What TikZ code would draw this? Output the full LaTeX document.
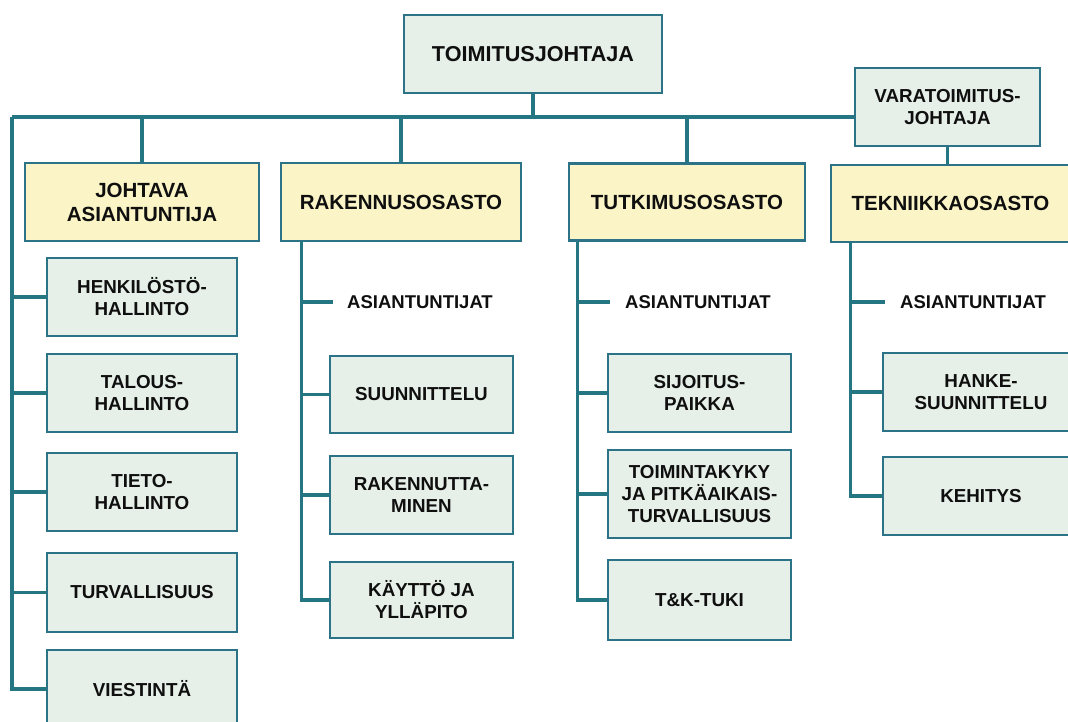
\documentclass[tikz,border=0pt]{standalone}
\usepackage{fontspec}
\setmainfont{Liberation Sans}
\definecolor{bordc}{RGB}{45,115,135}
\definecolor{linec}{RGB}{35,118,130}
\definecolor{lightf}{RGB}{230,239,232}
\definecolor{yelf}{RGB}{250,244,198}
\definecolor{txtc}{RGB}{15,15,15}
\begin{document}
\begin{tikzpicture}[x=1pt,y=-1pt,
  box/.style={draw=bordc, line width=2.7pt, align=center, inner sep=0pt, text=txtc,
    font=\fontsize{18.8}{22}\selectfont\bfseries},
  lbox/.style={box, fill=lightf},
  hbox/.style={box, fill=yelf, font=\fontsize{20.5}{24}\selectfont\bfseries},
  plain/.style={text=txtc, inner ysep=0pt, inner xsep=14pt, anchor=west,
    font=\fontsize{18.5}{22}\selectfont\bfseries},
  conn/.style={draw=linec, line width=3.2pt}]
\useasboundingbox (0,0) rectangle (1068,722);
\clip (0,0) rectangle (1068,722);
\fill[white] (0,0) rectangle (1068,722);

% top level
\node[lbox, minimum width=258pt, minimum height=78pt, font=\fontsize{21.6}{25}\selectfont\bfseries] (top) at (533,54) {TOIMITUSJOHTAJA};
\node[lbox, minimum width=185pt, minimum height=78pt] (vara) at (947.5,107) {VARATOIMITUS-\\JOHTAJA};

% departments
\node[hbox, minimum width=234pt, minimum height=78pt] (joht) at (142,202) {JOHTAVA\\ASIANTUNTIJA};
\node[hbox, minimum width=240pt, minimum height=78pt] (rak) at (401,202) {RAKENNUSOSASTO};
\node[hbox, minimum width=236pt, minimum height=77pt] (tutk) at (687,202) {TUTKIMUSOSASTO};
\node[hbox, minimum width=239pt, minimum height=77pt] (tekn) at (950.5,203.5) {TEKNIIKKAOSASTO};

% left column
\node[lbox, minimum width=190pt, minimum height=78pt] (henk) at (142,297) {HENKILÖSTÖ-\\HALLINTO};
\node[lbox, minimum width=190pt, minimum height=78pt] (tal) at (142,393) {TALOUS-\\HALLINTO};
\node[lbox, minimum width=190pt, minimum height=78pt] (tieto) at (142,492) {TIETO-\\HALLINTO};
\node[lbox, minimum width=190pt, minimum height=79pt] (turv) at (142,592.5) {TURVALLISUUS};
\node[lbox, minimum width=190pt, minimum height=78pt] (viest) at (142,689) {VIESTINTÄ};

% rakennus column
\node[plain] (asR) at (333,302) {ASIANTUNTIJAT};
\node[lbox, minimum width=183pt, minimum height=77pt] (suun) at (421.5,394.5) {SUUNNITTELU};
\node[lbox, minimum width=183pt, minimum height=78pt] (rakm) at (421.5,495) {RAKENNUTTA-\\MINEN};
\node[lbox, minimum width=183pt, minimum height=76pt] (kay) at (421.5,600) {KÄYTTÖ JA\\YLLÄPITO};

% tutkimus column
\node[plain, inner xsep=15pt] (asT) at (610,302) {ASIANTUNTIJAT};
\node[lbox, minimum width=183pt, minimum height=78pt] (sij) at (699.5,393) {SIJOITUS-\\PAIKKA};
\node[lbox, minimum width=183pt, minimum height=88pt] (toim) at (699.5,494) {TOIMINTAKYKY\\JA PITKÄAIKAIS-\\TURVALLISUUS};
\node[lbox, minimum width=183pt, minimum height=80pt] (tk) at (699.5,600) {T\&K-TUKI};

% tekniikka column
\node[plain, inner xsep=15pt] (asK) at (885,302) {ASIANTUNTIJAT};
\node[lbox, minimum width=196pt, minimum height=78pt] (hanke) at (981,392) {HANKE-\\SUUNNITTELU};
\node[lbox, minimum width=196pt, minimum height=78pt] (keh) at (981,496) {KEHITYS};

% bus
\coordinate (busL) at (12,117);
\path[conn] (top.south) -- (top.south |- busL);
\path[conn] (busL) -- (vara.west |- busL);
\path[conn] (vara.south) -- (vara.south |- tekn.north);
\path[conn] (joht.north |- busL) -- (joht.north);
\path[conn] (rak.north |- busL) -- (rak.north);
\path[conn] (tutk.north |- busL) -- (tutk.north);

% left column connectors
\path[conn] (busL) -- (busL |- viest.west) -- (viest.west);
\foreach \n in {henk,tal,tieto,turv} \path[conn] (busL |- \n.west) -- (\n.west);

% rakennus connectors
\coordinate (rv) at ([xshift=22pt]rak.south west);
\path[conn] (rv) -- (rv |- kay.west) -- (kay.west);
\path[conn] (rv |- asR.west) -- (asR.west);
\foreach \n in {suun,rakm} \path[conn] (rv |- \n.west) -- (\n.west);

% tutkimus connectors
\coordinate (tv) at ([xshift=10pt]tutk.south west);
\path[conn] (tv) -- (tv |- tk.west) -- (tk.west);
\path[conn] (tv |- asT.west) -- (asT.west);
\foreach \n in {sij,toim} \path[conn] (tv |- \n.west) -- (\n.west);

% tekniikka connectors
\coordinate (kv) at ([xshift=21pt]tekn.south west);
\path[conn] (kv) -- (kv |- keh.west) -- (keh.west);
\path[conn] (kv |- asK.west) -- (asK.west);
\path[conn] (kv |- hanke.west) -- (hanke.west);
\end{tikzpicture}
\end{document}
